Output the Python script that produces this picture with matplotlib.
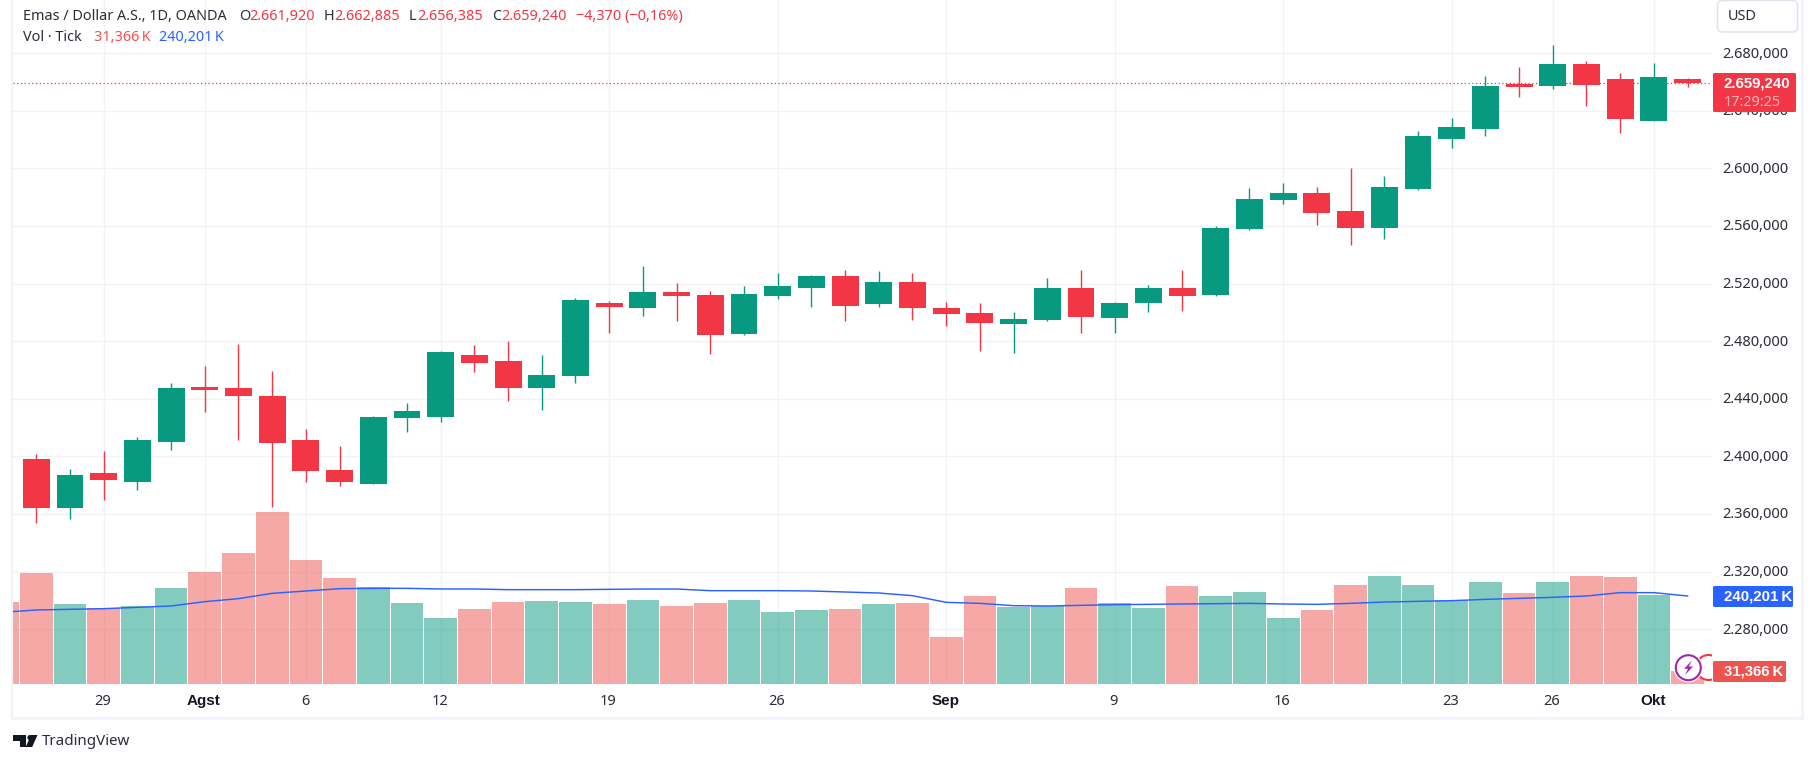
import numpy as np
import matplotlib
matplotlib.use("Agg")
import matplotlib.pyplot as plt
from matplotlib.patches import Rectangle, FancyBboxPatch, Circle, Polygon
from matplotlib.transforms import ScaledTranslation

FONT = ["Noto Sans", "DejaVu Sans"]
BOLD = ["Liberation Sans", "DejaVu Sans"]
plt.rcParams["font.family"] = FONT

# ---------- data (thousands of USD) ----------
opens = [2398.3, 2364.3, 2388.6, 2382.3, 2410.1, 2448.3, 2447.6, 2442.0, 2411.5, 2390.6,
         2380.9, 2426.8, 2427.5, 2470.5, 2466.3, 2447.6, 2455.6, 2506.3, 2502.9, 2514.0,
         2511.9, 2484.8, 2511.2, 2516.8, 2525.1, 2505.6, 2520.9, 2502.9, 2499.4, 2491.8,
         2494.5, 2516.8, 2496.2, 2506.6, 2517.0, 2512.2, 2558.0, 2578.1, 2583.0, 2570.5,
         2558.7, 2585.8, 2620.5, 2627.5, 2658.7, 2657.3, 2672.6, 2662.2, 2633.0, 2661.92]
closes = [2364.3, 2387.2, 2383.7, 2411.5, 2447.6, 2446.2, 2442.0, 2409.4, 2390.0, 2382.3,
          2427.5, 2431.6, 2472.6, 2465.0, 2447.6, 2456.3, 2508.4, 2503.6, 2514.0, 2511.2,
          2484.1, 2512.6, 2518.1, 2525.1, 2504.3, 2520.9, 2502.9, 2498.7, 2492.5, 2495.2,
          2516.8, 2496.6, 2506.6, 2517.0, 2511.5, 2558.7, 2578.8, 2583.0, 2569.1, 2558.7,
          2587.2, 2622.6, 2628.8, 2657.3, 2656.6, 2672.6, 2658.0, 2634.4, 2663.6, 2659.24]
highs = [2401.8, 2391.3, 2403.8, 2413.6, 2451.1, 2462.9, 2478.1, 2459.4, 2419.1, 2407.3,
         2428.1, 2437.2, 2473.3, 2477.5, 2480.2, 2470.2, 2509.8, 2507.7, 2532.0, 2520.2,
         2514.7, 2518.1, 2527.2, 2525.8, 2529.3, 2528.6, 2527.2, 2507.0, 2506.3, 2500.1,
         2523.7, 2529.3, 2507.3, 2519.1, 2529.5, 2560.1, 2586.5, 2590.0, 2587.2, 2600.4,
         2594.8, 2626.1, 2635.1, 2664.3, 2670.5, 2685.8, 2674.7, 2666.3, 2673.3, 2662.885]
lows = [2353.8, 2356.6, 2369.8, 2376.8, 2404.5, 2430.9, 2411.5, 2364.9, 2382.3, 2379.5,
        2380.9, 2417.0, 2424.0, 2458.7, 2438.6, 2432.5, 2450.8, 2485.5, 2497.3, 2493.8,
        2470.9, 2484.1, 2509.1, 2503.6, 2493.8, 2503.6, 2494.5, 2490.4, 2473.0, 2471.6,
        2493.8, 2485.5, 2485.8, 2500.4, 2501.0, 2511.5, 2557.3, 2575.4, 2560.8, 2546.9,
        2551.0, 2585.1, 2614.3, 2622.6, 2649.7, 2655.2, 2643.4, 2624.7, 2633.0, 2656.385]
# first entry is the bar cut off by the left edge
volumes = [223.6, 304.3, 218.0, 205.5, 212.4, 262.5, 307.0, 360.0, 474.1, 340.5, 290.4,
           265.3, 220.8, 179.0, 204.0, 223.6, 226.3, 223.6, 218.0, 229.1, 212.4, 220.8,
           229.1, 195.7, 201.3, 204.0, 218.0, 220.8, 126.1, 240.3, 209.6, 212.4, 262.5,
           220.8, 206.9, 268.1, 240.3, 251.4, 179.0, 201.3, 270.9, 296.0, 270.9, 229.1,
           279.2, 248.6, 279.2, 296.0, 293.2, 243.0, 31.366]
first_bar_up = False
vol_ma = [195.0, 201.3, 203.2, 205.0, 208.7, 212.5, 224.5, 232.9, 247.7, 254.2, 260.7,
          261.6, 261.6, 259.8, 259.8, 257.9, 257.9, 257.9, 258.8, 259.7, 259.7, 255.1,
          255.1, 255.1, 254.2, 251.4, 248.6, 241.2, 222.6, 219.8, 213.3, 212.4, 214.2,
          216.1, 217.0, 218.0, 218.9, 219.8, 218.0, 217.0, 219.8, 223.5, 225.4, 227.2,
          230.9, 233.7, 236.6, 240.3, 249.6, 249.6, 240.201]
price_ticks = [2680, 2640, 2600, 2560, 2520, 2480, 2440, 2400, 2360, 2320, 2280]
time_pos = [2, 5, 8, 12, 17, 22, 27, 32, 37, 42, 45, 48]
time_labels = ["29", "Agst", "6", "12", "19", "26", "Sep", "9", "16", "23", "26", "Okt"]
time_bold = ["Agst", "Sep", "Okt"]

UP, DOWN = "#089981", "#F23645"
VUP, VDOWN = "#089981", "#EF5350"
BLUE, GRID, BORDER, INK = "#2962FF", "#F1F3F6", "#F0F3FA", "#2A2E39"
W, H = 1815, 763
PL, PR, PB = 13, 1712, 684

def fmt_price(v):
    whole = int(v)
    frac = round((v - whole) * 1000)
    return f"{str(whole)[0]}.{str(whole)[1:]},{frac:03d}"

fig = plt.figure(figsize=(W / 100, H / 100), dpi=100, facecolor="white")
rect = [PL / W, (H - PB) / H, (PR - PL) / W, PB / H]
ax = fig.add_axes(rect, zorder=1)
axv = fig.add_axes(rect, zorder=2)
axv.patch.set_visible(False)
axv.axis("off")

x = np.arange(len(opens))
xlim = ((PL - 36.3) / 33.7, (PR - 36.3) / 33.7)
o, c, h, l = map(np.array, (opens, closes, highs, lows))
is_up = c >= o
col = [UP if u else DOWN for u in is_up]

ax.set_xlim(*xlim)
ax.set_ylim(2680 - (PB - 53.3) / 1.44, 2680 + 53.3 / 1.44)
ax.set_facecolor("white")
for s in ax.spines.values():
    s.set_visible(False)
ax.grid(True, color=GRID, lw=1.0, zorder=0)
ax.set_axisbelow(True)
ax.yaxis.tick_right()
ax.set_yticks(price_ticks, [fmt_price(p) for p in price_ticks])
ax.set_xticks(time_pos, time_labels)
ax.tick_params(length=0, colors=INK, labelsize=10.5)
ax.tick_params(axis="y", pad=7.6)
ax.tick_params(axis="x", pad=7.0)
up_1px = ScaledTranslation(0, 1.2 / 100, fig.dpi_scale_trans)
for t in ax.get_yticklabels():
    t.set_transform(t.get_transform() + up_1px)
for t in ax.get_xticklabels():
    t.set_transform(t.get_transform() + ScaledTranslation(-0.8 / 100, 0, fig.dpi_scale_trans))
    if t.get_text() in time_bold:
        t.set_fontweight("bold")
        t.set_family(BOLD)
        t.set_fontsize(11)
        t.set_color("#131722")

ax.vlines(x, l, h, colors=col, lw=1.0, zorder=3)
ax.bar(x, np.maximum(np.abs(c - o), 0.6), bottom=np.minimum(o, c), width=0.80,
       color=col, linewidth=0, zorder=4)
ax.axhline(closes[-1], color=DOWN, lw=0.9, ls=(0, (1, 2)), zorder=2)

# volume pane: overlaid on the price pane
vbase = (682.3 - PB) * 2.784
axv.set_xlim(*xlim)
axv.set_ylim(vbase, 682.3 * 2.784)
vx = np.arange(-1, len(opens))
vup = [first_bar_up] + list(is_up)
axv.bar(vx, np.array(volumes) - vbase, bottom=vbase, width=0.97,
        color=[VUP if u else VDOWN for u in vup], alpha=0.5, linewidth=0)
axv.plot(vx, vol_ma, color=BLUE, lw=1.05, zorder=5)

# ---------- overlay in pixel coordinates ----------
ov = fig.add_axes([0, 0, 1, 1], zorder=10)
ov.set_xlim(0, W)
ov.set_ylim(H, 0)
ov.axis("off")
ov.patch.set_visible(False)

# frame
ov.plot([PL - 0.5, PL - 0.5], [0, 718], color=BORDER, lw=1.5)
ov.plot([PL - 0.5, 1802], [718, 718], color=BORDER, lw=1.9)
ov.plot([1802, 1802], [0, 718], color=BORDER, lw=1.9)

# header
txt = dict(fontsize=10.4, va="center", ha="left")
for xp, s, cl in [(23, "Emas / Dollar A.S., 1D, OANDA", INK), (239, "O", INK),
                  (249, fmt_price(opens[-1]), DOWN), (324, "H", INK),
                  (334, fmt_price(highs[-1]), DOWN), (409, "L", INK),
                  (417, fmt_price(lows[-1]), DOWN), (492, "C", INK),
                  (501, fmt_price(closes[-1]), DOWN), (576, "\u22124,370 (\u22120,16%)", DOWN)]:
    ov.text(xp, 16.5, s, color=cl, **txt)
ov.text(23, 37.5, "Vol \u00b7 Tick", color=INK, **txt)
ov.text(94.3, 37.5, "31,366\u2009K", color=VDOWN, **txt)
ov.text(159, 37.5, "240,201\u2009K", color=BLUE, **txt)

# USD button
ov.add_patch(FancyBboxPatch((1717.5, 0.5), 80, 31.5, boxstyle="round,pad=0,rounding_size=5",
                            fc="white", ec="#E0E3EB", lw=1.1))
ov.text(1728, 16.5, "USD", color=INK, **txt)

# price-scale labels
bold_txt = dict(fontsize=10.8, va="center", ha="left", fontweight="bold", family=BOLD, color="white")
ov.add_patch(FancyBboxPatch((1713, 73), 83, 39, boxstyle="round,pad=0,rounding_size=1.5",
                            fc=DOWN, ec="none"))
ov.text(1724, 83, fmt_price(closes[-1]), **bold_txt)
ov.text(1724, 102, "17:29:25", color="white", alpha=0.62, **txt)
ov.add_patch(FancyBboxPatch((1713, 586), 80, 21, boxstyle="round,pad=0,rounding_size=1.5",
                            fc=BLUE, ec="none"))
ov.text(1724, 596.5, "240,201\u2009K", **bold_txt)
ov.add_patch(FancyBboxPatch((1713, 661), 73, 21, boxstyle="round,pad=0,rounding_size=1.5",
                            fc=VDOWN, ec="none"))
ov.text(1724, 671.5, "31,366\u2009K", **bold_txt)

# event badges
ring = Circle((1708.5, 667.5), 12.5, fc="white", ec=DOWN, lw=1.5)
ov.add_patch(ring)
ring.set_clip_path(Rectangle((1690, 650), 22, 36, transform=ov.transData))
ov.add_patch(Circle((1688.3, 667.7), 14.6, fc="white", ec="none"))
ov.add_patch(Circle((1688.3, 667.7), 12.5, fc="white", ec="#9C27B0", lw=1.5))
ov.add_patch(Polygon([(1692, 660.5), (1684, 668.8), (1688, 668.8), (1685, 675),
                      (1693, 666.5), (1688.8, 666.5)], closed=True, fc="#9C27B0", ec="none"))

# TradingView mark
LOGO = "#131722"
ov.add_patch(Polygon([(13, 735), (26.5, 735), (26.5, 747), (20, 747), (20, 741), (13, 741)],
                     closed=True, fc=LOGO, ec="none"))
ov.add_patch(Circle((30, 737.6), 2.6, fc=LOGO, ec="none"))
ov.add_patch(Polygon([(31, 735), (37.5, 735), (32.2, 747), (25.7, 747)],
                     closed=True, fc=LOGO, ec="none"))
ov.text(42, 741.5, "TradingView", color="#2A2E39", fontsize=10.9, va="center", ha="left")

fig.savefig("out.png", dpi=100, facecolor="white")
